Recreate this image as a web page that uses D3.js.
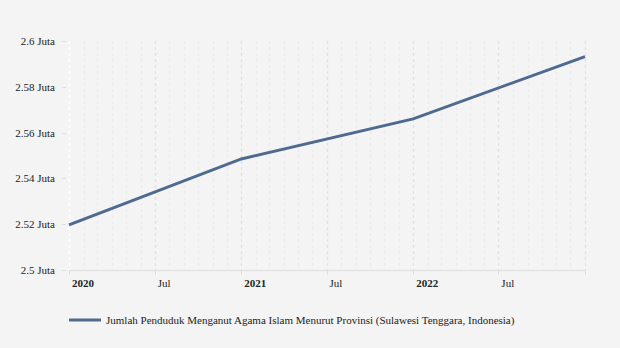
<!DOCTYPE html>
<html><head><meta charset="utf-8">
<script src="https://cdn.jsdelivr.net/npm/d3@7"></script>
<style>body{margin:0;background:#f4f4f4;}svg{display:block;}</style>
</head><body>
<svg id="c" width="620" height="348"></svg>
<script>
const dates = ["2020-01-01","2021-01-01","2022-01-01","2023-01-01"];
const values = [2.5197, 2.5485, 2.5660, 2.5932];
const yTicks = [2.5, 2.52, 2.54, 2.56, 2.58, 2.6];
const seriesName = "Jumlah Penduduk Menganut Agama Islam Menurut Provinsi (Sulawesi Tenggara, Indonesia)";

const parse = d3.timeParse("%Y-%m-%d");
const data = dates.map((d,i)=>({date:parse(d), value:values[i]}));
const svg = d3.select("#c");
const font = "'Liberation Serif', 'Times New Roman', serif";
const color = "#4e6a8f";

const x = d3.scaleTime().domain([parse("2020-01-01"), parse("2023-01-01")]).range([69, 585]);
const y = d3.scaleLinear().domain([2.5, 2.6]).range([270, 41]);

// monthly vertical grid
const months = d3.timeMonth.range(parse("2020-01-01"), parse("2023-01-02"));
svg.append("g").selectAll("line").data(months).join("line")
  .attr("x1", d=>Math.round(x(d))+0.5).attr("x2", d=>Math.round(x(d))+0.5)
  .attr("y1", 41).attr("y2", 270)
  .attr("stroke", (d,i)=> i===0 ? "#ffffff" : (d.getMonth()%6===0) ? "#e2e2e2" : "#ebebeb")
  .attr("stroke-width", 1.5)
  .attr("stroke-dasharray", "3,3");

// x axis baseline
svg.append("line").attr("x1",69).attr("x2",585).attr("y1",270.5).attr("y2",270.5)
  .attr("stroke","#e3e3e3").attr("stroke-width",1.5);

// x ticks
const xTickDates = d3.timeMonth.every(6).range(parse("2020-01-01"), parse("2023-01-02"));
const xg = svg.append("g");
xg.selectAll("line").data(xTickDates).join("line")
  .attr("x1", d=>Math.round(x(d))+0.5).attr("x2", d=>Math.round(x(d))+0.5)
  .attr("y1", 270).attr("y2", 275).attr("stroke","#dedede").attr("stroke-width",1);
xg.selectAll("text").data(xTickDates.filter(d=>d < parse("2023-01-01"))).join("text")
  .attr("x", d=>x(d)+3).attr("y", 287)
  .attr("font-family", font).attr("font-size", 11)
  .attr("font-weight", d=>d.getMonth()===0 ? "bold" : "normal")
  .attr("fill","#222")
  .text(d=> d.getMonth()===0 ? d3.timeFormat("%Y")(d) : "Jul");

// y axis
const yg = svg.append("g");
yg.selectAll("line").data(yTicks).join("line")
  .attr("x1", 62).attr("x2", 66).attr("y1", d=>Math.round(y(d))+0.5).attr("y2", d=>Math.round(y(d))+0.5)
  .attr("stroke","#dedede");
yg.selectAll("text").data(yTicks).join("text")
  .attr("x", 55).attr("y", d=>y(d)+4).attr("text-anchor","end")
  .attr("font-family", font).attr("font-size", 11).attr("fill","#222")
  .text(d=> d3.format("~g")(d) + " Juta");

// line
const line = d3.line().x(d=>x(d.date)).y(d=>y(d.value));
svg.append("path").datum(data).attr("d", line)
  .attr("fill","none").attr("stroke", color).attr("stroke-width", 3);

// legend
svg.append("line").attr("x1",69).attr("x2",101).attr("y1",320).attr("y2",320)
  .attr("stroke", color).attr("stroke-width", 3);
svg.append("text").attr("x",106).attr("y",324)
  .attr("font-family", font).attr("font-size", 11).attr("fill","#222")
  .text(seriesName);
</script>
</body></html>
